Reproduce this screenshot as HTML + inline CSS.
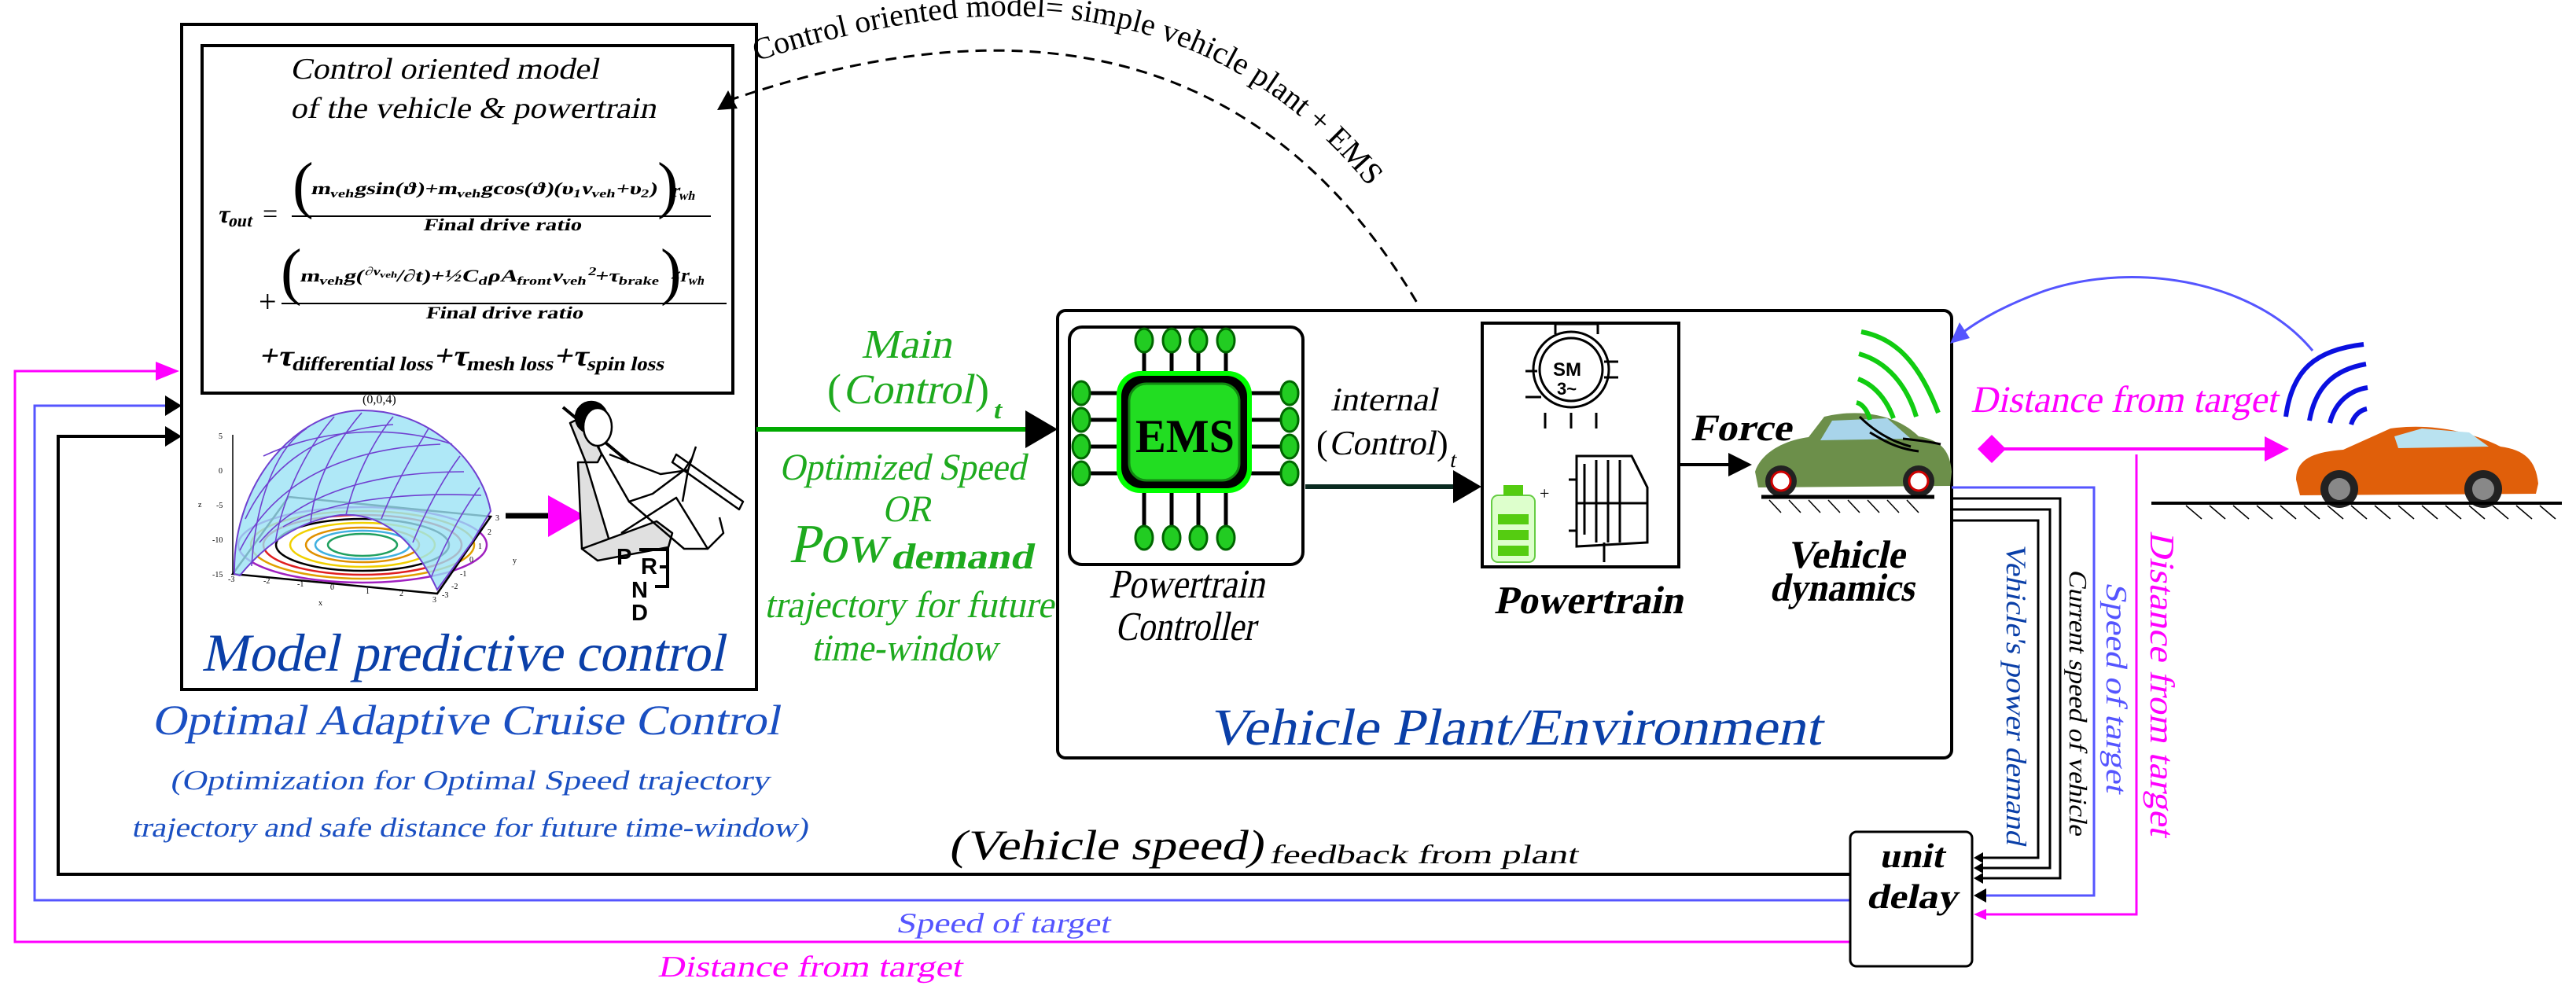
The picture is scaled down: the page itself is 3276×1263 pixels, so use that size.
<!DOCTYPE html>
<html><head><meta charset="utf-8"><style>
html,body{margin:0;padding:0;background:#fff;}
svg{display:block;}
text{font-family:"Liberation Serif",serif;font-style:normal;}
</style></head><body>
<svg width="3276" height="1263" viewBox="0 0 3276 1263" xmlns="http://www.w3.org/2000/svg" font-family="Liberation Serif, serif">

<!-- MPC box -->
<rect x="231" y="31" width="731" height="846" fill="none" stroke="#000" stroke-width="4"/>
<rect x="257" y="58" width="675" height="442" fill="none" stroke="#000" stroke-width="4"/>
<text transform="translate(369,100) skewX(-12)" font-size="38" textLength="392" lengthAdjust="spacingAndGlyphs">Control oriented model</text>
<text transform="translate(369,150) skewX(-12)" font-size="38" textLength="465" lengthAdjust="spacingAndGlyphs">of the vehicle &amp; powertrain</text>
<!-- formula -->
<text transform="translate(276,283) skewX(-12)" font-size="32" font-weight="bold">τ<tspan font-size="22" dy="5">out</tspan></text>
<text x="334" y="283" font-size="34">=</text>
<text x="372" y="262" font-size="80">(</text>
<text transform="translate(395,247) skewX(-12)" font-size="22" font-weight="bold" textLength="440" lengthAdjust="spacingAndGlyphs">m<tspan font-size="15" dy="4">veh</tspan><tspan dy="-4">gsin(ϑ)+m</tspan><tspan font-size="15" dy="4">veh</tspan><tspan dy="-4">gcos(ϑ)(υ</tspan><tspan font-size="15" dy="4">1</tspan><tspan dy="-4">ν</tspan><tspan font-size="15" dy="4">veh</tspan><tspan dy="-4">+υ</tspan><tspan font-size="15" dy="4">2</tspan><tspan dy="-4">)</tspan></text>
<text x="836" y="262" font-size="80">)</text>
<text transform="translate(853,250) skewX(-12)" font-size="24" font-weight="bold">r<tspan font-size="16" dy="4">wh</tspan></text>
<line x1="371" y1="275" x2="904" y2="275" stroke="#000" stroke-width="2"/>
<text transform="translate(538,293) skewX(-12)" font-size="22" font-weight="bold" textLength="201" lengthAdjust="spacingAndGlyphs">Final  drive  ratio</text>
<text x="329" y="397" font-size="40">+</text>
<text x="357" y="372" font-size="80">(</text>
<text transform="translate(381,358) skewX(-12)" font-size="22" font-weight="bold" textLength="457" lengthAdjust="spacingAndGlyphs">m<tspan font-size="15" dy="4">veh</tspan><tspan dy="-4">g(</tspan><tspan font-size="15" dy="-8">∂ν</tspan><tspan font-size="11" dy="3">veh</tspan><tspan dy="5">/∂t)+½C</tspan><tspan font-size="15" dy="4">d</tspan><tspan dy="-4">ρA</tspan><tspan font-size="15" dy="4">front</tspan><tspan dy="-4">ν</tspan><tspan font-size="15" dy="4">veh</tspan><tspan font-size="15" dy="-12">2</tspan><tspan dy="8">+τ</tspan><tspan font-size="15" dy="4">brake</tspan></text>
<text x="840" y="372" font-size="80">)</text>
<text transform="translate(851,358) skewX(-12)" font-size="24" font-weight="bold">×r<tspan font-size="16" dy="4">wh</tspan></text>
<line x1="358" y1="386" x2="924" y2="386" stroke="#000" stroke-width="2"/>
<text transform="translate(541,405) skewX(-12)" font-size="22" font-weight="bold" textLength="200" lengthAdjust="spacingAndGlyphs">Final  drive  ratio</text>
<text transform="translate(329,465) skewX(-12)" font-size="38" font-weight="bold" textLength="516" lengthAdjust="spacingAndGlyphs">+τ<tspan font-size="25" dy="6">differential loss</tspan><tspan dy="-6">+τ</tspan><tspan font-size="25" dy="6">mesh loss</tspan><tspan dy="-6">+τ</tspan><tspan font-size="25" dy="6">spin loss</tspan></text>

<!-- dashed curve -->
<path d="M 926 128 Q 1530 -80 1805 390" fill="none" stroke="#000" stroke-width="3" stroke-dasharray="14,9"/>
<path d="M 912 140 L 926 115 L 938 138 z" fill="#000"/>
<path id="tp" d="M 962 78 Q 1575 -125 1835 385" fill="none"/>
<text font-size="40"><textPath href="#tp">Control oriented model= simple vehicle plant + EMS</textPath></text>

<!-- 3D plot -->
<g>
<text x="461" y="513" font-size="16">(0,0,4)</text>
<line x1="296" y1="553" x2="296" y2="730" stroke="#000" stroke-width="1.5"/>
<g font-size="10"><text x="278" y="558">5</text><text x="278" y="602">0</text><text x="275" y="646">-5</text><text x="270" y="690">-10</text><text x="270" y="734">-15</text></g>
<g fill="none" stroke-width="2.5">
<ellipse cx="461" cy="693" rx="158" ry="48" stroke="#a020c0"/>
<ellipse cx="461" cy="693" rx="142" ry="43" stroke="#e0a000"/>
<ellipse cx="461" cy="693" rx="126" ry="38" stroke="#e02020"/>
<ellipse cx="461" cy="693" rx="110" ry="33" stroke="#000"/>
<ellipse cx="461" cy="693" rx="92" ry="28" stroke="#f0d000"/>
<ellipse cx="461" cy="693" rx="72" ry="22" stroke="#e09000"/>
<ellipse cx="461" cy="693" rx="60" ry="18" stroke="#40b0e0"/>
<ellipse cx="461" cy="693" rx="44" ry="14" stroke="#20a060"/>
</g>
<path d="M 296 730 L 367 632 L 624 657 L 556 755 z" fill="none" stroke="#000" stroke-width="2.5"/>
<path d="M 298 730 C 296 610 380 522 461 522 C 545 522 612 585 624 650 L 600 690 L 556 750 Q 510 650 433 655 Q 360 665 305 732 z" fill="#9be2f5" fill-opacity="0.8" stroke="#7040d0" stroke-width="2"/>
<g stroke="#7040d0" stroke-width="1.6" fill="none">
<path d="M 312 660 C 350 580 420 545 500 540"/><path d="M 305 700 C 350 610 440 570 560 565"/>
<path d="M 330 690 C 380 630 470 600 590 600"/><path d="M 360 670 C 410 640 500 625 612 630"/>
<path d="M 335 580 C 410 545 500 540 575 565"/>
<path d="M 320 720 C 325 640 350 570 390 545"/><path d="M 350 690 C 360 630 390 570 425 530"/>
<path d="M 395 665 C 400 610 430 560 460 525"/><path d="M 440 655 C 450 610 475 560 500 530"/>
<path d="M 485 660 C 500 620 530 570 545 545"/><path d="M 525 690 C 545 640 570 600 585 580"/>
<path d="M 548 735 C 570 680 595 640 610 620"/>
</g>
<g font-size="10"><text x="630" y="662">3</text><text x="620" y="680">2</text><text x="608" y="698">1</text><text x="597" y="715">0</text><text x="585" y="733">-1</text><text x="574" y="749">-2</text><text x="562" y="760">-3</text><text x="290" y="740">-3</text><text x="335" y="742">-2</text><text x="378" y="746">-1</text><text x="420" y="750">0</text><text x="465" y="755">1</text><text x="508" y="758">2</text><text x="550" y="766">3</text><text x="652" y="716">y</text><text x="405" y="770">x</text><text x="252" y="645">z</text></g>
</g>
<line x1="643" y1="656" x2="698" y2="656" stroke="#000" stroke-width="7"/>
<path d="M 697 630 L 744 656 L 697 683 z" fill="#ff00ff"/>
<!-- driver -->
<g stroke="#000" stroke-width="2.5" fill="none" stroke-linejoin="round" transform="translate(0,-62)">
<path d="M 716 580 L 800 650" stroke-width="4"/>
<path d="M 725 600 L 745 590 L 765 640 L 760 650 L 745 650 z" fill="#e0e0e0"/>
<path d="M 735 650 L 745 650 L 775 750 L 740 760 z" fill="#e0e0e0"/>
<path d="M 740 760 L 835 725 L 855 740 L 850 758 L 760 775 z" fill="#e0e0e0"/>
<circle cx="752" cy="593" r="20" fill="#000"/><ellipse cx="760" cy="605" rx="18" ry="24" fill="#fff"/>
<path d="M 760 630 L 800 700 L 830 690 L 870 660 L 880 645"/>
<path d="M 775 640 L 840 665 L 875 660"/>
<path d="M 800 700 L 870 760 L 900 760"/>
<path d="M 790 740 L 860 695 L 900 760 L 920 740 L 915 720"/>
<path d="M 860 640 L 945 700 L 940 710 L 855 650z"/>
<path d="M 885 630 L 875 660 L 868 700"/>
</g>
<g font-size="29" font-weight="bold">
<text x="784" y="718" style="font-family:'Liberation Sans',sans-serif">P</text>
<text x="815" y="730" style="font-family:'Liberation Sans',sans-serif">R</text>
<text x="803" y="760" style="font-family:'Liberation Sans',sans-serif">N</text>
<text x="803" y="789" style="font-family:'Liberation Sans',sans-serif">D</text>
</g>
<path d="M 813 699 L 849 699 L 849 746 L 833 746 M 839 721 L 849 721" stroke="#000" stroke-width="4" fill="none"/>
<text transform="translate(256,853) skewX(-12)" font-size="68" fill="#0a3fa8" textLength="665" lengthAdjust="spacingAndGlyphs">Model predictive control</text>
<text transform="translate(193,934) skewX(-12)" font-size="54" fill="#1a4fc2" textLength="798" lengthAdjust="spacingAndGlyphs">Optimal Adaptive Cruise Control</text>
<text transform="translate(216,1004) skewX(-12)" font-size="35" fill="#1a4fc2" textLength="762" lengthAdjust="spacingAndGlyphs">(Optimization for Optimal Speed trajectory</text>
<text transform="translate(167,1064) skewX(-12)" font-size="35" fill="#1a4fc2" textLength="860" lengthAdjust="spacingAndGlyphs">trajectory and safe distance for future time-window)</text>

<!-- left feedback lines -->
<path d="M 2353 1198 L 19 1198 L 19 472 L 222 472" fill="none" stroke="#ff00ff" stroke-width="3"/>
<path d="M 198 460 L 228 472 L 198 484 z" fill="#ff00ff"/>
<path d="M 2353 1145 L 44 1145 L 44 516 L 215 516" fill="none" stroke="#5555ff" stroke-width="3"/>
<path d="M 210 503 L 231 516 L 210 529 z" fill="#000"/>
<path d="M 2353 1112 L 74 1112 L 74 555 L 215 555" fill="none" stroke="#000" stroke-width="4"/>
<path d="M 210 542 L 231 555 L 210 568 z" fill="#000"/>

<!-- main green arrow -->
<line x1="962" y1="546" x2="1306" y2="546" stroke="#00aa00" stroke-width="6"/>
<path d="M 1304 522 L 1345 546 L 1304 570 z" fill="#000"/>
<g fill="#1eaa1e">
<text transform="translate(1095,455) skewX(-12)" font-size="52" textLength="115" lengthAdjust="spacingAndGlyphs">Main</text>
<text x="1052" y="513" font-size="54">(</text>
<text transform="translate(1072,513) skewX(-12)" font-size="54" textLength="165" lengthAdjust="spacingAndGlyphs">Control</text>
<text x="1240" y="513" font-size="54">)</text>
<text transform="translate(1262,532) skewX(-12)" font-size="32" font-weight="bold">t</text>
<text transform="translate(991,610) skewX(-12)" font-size="48" textLength="313" lengthAdjust="spacingAndGlyphs">Optimized Speed</text>
<text transform="translate(1122,663) skewX(-12)" font-size="48" textLength="62" lengthAdjust="spacingAndGlyphs">OR</text>
<text transform="translate(1003,715) skewX(-12)" font-size="70" textLength="124" lengthAdjust="spacingAndGlyphs">Pow</text>
<text transform="translate(1132,723) skewX(-12)" font-size="46" font-weight="bold" textLength="181" lengthAdjust="spacingAndGlyphs">demand</text>
<text transform="translate(972,785) skewX(-12)" font-size="48" textLength="368" lengthAdjust="spacingAndGlyphs">trajectory for future</text>
<text transform="translate(1032,840) skewX(-12)" font-size="48" textLength="236" lengthAdjust="spacingAndGlyphs">time-window</text>
</g>

<!-- Plant box -->
<rect x="1345" y="395" width="1137" height="569" rx="10" fill="none" stroke="#000" stroke-width="4"/>
<rect x="1360" y="416" width="297" height="302" rx="16" fill="none" stroke="#000" stroke-width="4"/>
<g stroke="#000" stroke-width="5">
<line x1="1455" y1="440" x2="1455" y2="480"/><line x1="1490" y1="440" x2="1490" y2="480"/><line x1="1524" y1="440" x2="1524" y2="480"/><line x1="1559" y1="440" x2="1559" y2="480"/>
<line x1="1455" y1="620" x2="1455" y2="670"/><line x1="1490" y1="620" x2="1490" y2="670"/><line x1="1524" y1="620" x2="1524" y2="670"/><line x1="1559" y1="620" x2="1559" y2="670"/>
<line x1="1375" y1="500" x2="1430" y2="500"/><line x1="1375" y1="534" x2="1430" y2="534"/><line x1="1375" y1="568" x2="1430" y2="568"/><line x1="1375" y1="602" x2="1430" y2="602"/>
<line x1="1590" y1="500" x2="1640" y2="500"/><line x1="1590" y1="534" x2="1640" y2="534"/><line x1="1590" y1="568" x2="1640" y2="568"/><line x1="1590" y1="602" x2="1640" y2="602"/>
</g>
<g fill="#22cc22" stroke="#006600" stroke-width="3">
<ellipse cx="1455" cy="433" rx="11" ry="15"/><ellipse cx="1490" cy="433" rx="11" ry="15"/><ellipse cx="1524" cy="433" rx="11" ry="15"/><ellipse cx="1559" cy="433" rx="11" ry="15"/>
<ellipse cx="1455" cy="684" rx="11" ry="15"/><ellipse cx="1490" cy="684" rx="11" ry="15"/><ellipse cx="1524" cy="684" rx="11" ry="15"/><ellipse cx="1559" cy="684" rx="11" ry="15"/>
<ellipse cx="1375" cy="500" rx="11" ry="15"/><ellipse cx="1375" cy="534" rx="11" ry="15"/><ellipse cx="1375" cy="568" rx="11" ry="15"/><ellipse cx="1375" cy="602" rx="11" ry="15"/>
<ellipse cx="1640" cy="500" rx="11" ry="15"/><ellipse cx="1640" cy="534" rx="11" ry="15"/><ellipse cx="1640" cy="568" rx="11" ry="15"/><ellipse cx="1640" cy="602" rx="11" ry="15"/>
</g>
<rect x="1420" y="472" width="172" height="155" rx="30" fill="#00ff00"/>
<rect x="1426" y="478" width="160" height="143" rx="26" fill="#000"/>
<rect x="1436" y="488" width="140" height="123" rx="22" fill="#22dd22" stroke="#118811" stroke-width="3"/>
<text x="1444" y="575" font-size="60" font-weight="bold" textLength="126" lengthAdjust="spacingAndGlyphs">EMS</text>
<text transform="translate(1410,760) skewX(-12)" font-size="52" textLength="198" lengthAdjust="spacingAndGlyphs">Powertrain</text>
<text transform="translate(1418,814) skewX(-12)" font-size="52" textLength="178" lengthAdjust="spacingAndGlyphs">Controller</text>
<!-- internal arrow -->
<line x1="1660" y1="619" x2="1850" y2="619" stroke="#0a2a20" stroke-width="6"/>
<path d="M 1848 598 L 1884 619 L 1848 640 z" fill="#000"/>
<text transform="translate(1692,522) skewX(-12)" font-size="42" textLength="136" lengthAdjust="spacingAndGlyphs">internal</text>
<text x="1674" y="578" font-size="44">(</text>
<text transform="translate(1690,578) skewX(-12)" font-size="44" textLength="135" lengthAdjust="spacingAndGlyphs">Control</text>
<text x="1827" y="578" font-size="44">)</text>
<text transform="translate(1843,594) skewX(-12)" font-size="28">t</text>
<!-- powertrain box -->
<rect x="1885" y="411" width="250" height="310" fill="none" stroke="#000" stroke-width="4"/>
<g fill="none" stroke="#000" stroke-width="3">
<circle cx="1998" cy="470" r="48"/><circle cx="1998" cy="470" r="40"/>
<path d="M 1978 425 L 1978 412 L 2032 412 L 2032 425"/>
<line x1="1940" y1="472" x2="1955" y2="472"/><line x1="2040" y1="460" x2="2058" y2="460"/><line x1="2040" y1="480" x2="2058" y2="480"/>
<line x1="1940" y1="505" x2="1960" y2="505"/><line x1="1965" y1="525" x2="1965" y2="545"/><line x1="1998" y1="525" x2="1998" y2="545"/><line x1="2030" y1="525" x2="2030" y2="545"/>
<path d="M 2005 580 L 2075 580 L 2095 620 L 2095 690 L 2005 695 z"/>
<line x1="2015" y1="590" x2="2015" y2="680"/><line x1="2030" y1="585" x2="2030" y2="690"/><line x1="2045" y1="585" x2="2045" y2="690"/><line x1="2060" y1="585" x2="2060" y2="690"/>
<line x1="2005" y1="640" x2="2095" y2="640"/><line x1="2040" y1="690" x2="2040" y2="715"/>
<line x1="1995" y1="610" x2="2005" y2="610"/><line x1="1995" y1="675" x2="2005" y2="675"/>
</g>
<text x="1975" y="478" font-size="24" font-weight="bold" style="font-family:'Liberation Sans',sans-serif">SM</text>
<text x="1980" y="502" font-size="22" font-weight="bold" style="font-family:'Liberation Sans',sans-serif">3~</text>
<rect x="1897" y="630" width="55" height="85" rx="8" fill="#ddffcc" stroke="#66cc44" stroke-width="2"/>
<rect x="1912" y="617" width="25" height="13" fill="#55cc11"/>
<rect x="1905" y="654" width="39" height="13" fill="#55cc11"/><rect x="1905" y="674" width="39" height="13" fill="#55cc11"/><rect x="1905" y="694" width="39" height="13" fill="#55cc11"/>
<text x="1958" y="635" font-size="22">+</text>
<text transform="translate(1900,780) skewX(-12)" font-size="50" font-weight="bold" textLength="240" lengthAdjust="spacingAndGlyphs">Powertrain</text>
<!-- force -->
<line x1="2135" y1="591" x2="2205" y2="591" stroke="#000" stroke-width="4"/>
<path d="M 2198 576 L 2228 591 L 2198 606 z" fill="#000"/>
<text transform="translate(2150,560) skewX(-12)" font-size="48" font-weight="bold" textLength="128" lengthAdjust="spacingAndGlyphs">Force</text>
<!-- green car -->
<g>
<path d="M 2232 600 C 2240 575 2270 560 2300 556 L 2320 530 C 2360 520 2410 525 2440 555 C 2470 560 2480 575 2482 600 L 2480 618 L 2236 620 z" fill="#6c8f4a"/>
<path d="M 2330 535 L 2400 532 L 2430 558 L 2315 560 z" fill="#a8d4ea"/>
<circle cx="2265" cy="612" r="20" fill="#222"/><circle cx="2265" cy="612" r="12" fill="#fff" stroke="#c00" stroke-width="3"/>
<circle cx="2440" cy="612" r="20" fill="#222"/><circle cx="2440" cy="612" r="12" fill="#fff" stroke="#c00" stroke-width="3"/>
<line x1="2240" y1="632" x2="2460" y2="632" stroke="#000" stroke-width="5"/>
<g stroke="#000" stroke-width="1.5"><line x1="2250" y1="636" x2="2265" y2="652"/><line x1="2275" y1="636" x2="2290" y2="652"/><line x1="2300" y1="636" x2="2315" y2="652"/><line x1="2325" y1="636" x2="2340" y2="652"/><line x1="2350" y1="636" x2="2365" y2="652"/><line x1="2375" y1="636" x2="2390" y2="652"/><line x1="2400" y1="636" x2="2415" y2="652"/><line x1="2425" y1="636" x2="2440" y2="652"/></g>
<g fill="none" stroke="#11cc11" stroke-width="6"><path d="M 2367 422 C 2410 430 2440 460 2465 525"/><path d="M 2364 450 C 2400 460 2425 490 2437 530"/><path d="M 2363 482 C 2385 490 2400 510 2408 532"/><path d="M 2361 512 C 2370 514 2376 525 2378 534"/></g>
<g fill="none" stroke="#000" stroke-width="3"><path d="M 2365 530 C 2380 545 2400 560 2430 568"/><path d="M 2378 550 C 2395 560 2410 570 2440 574"/><path d="M 2420 558 C 2440 560 2455 562 2468 565"/></g>
</g>
<text transform="translate(2272,722) skewX(-12)" font-size="50" font-weight="bold" textLength="150" lengthAdjust="spacingAndGlyphs">Vehicle</text>
<text transform="translate(2250,764) skewX(-12)" font-size="50" font-weight="bold" textLength="184" lengthAdjust="spacingAndGlyphs">dynamics</text>
<text transform="translate(1536,947) skewX(-12)" font-size="66" fill="#0a3fa8" textLength="780" lengthAdjust="spacingAndGlyphs">Vehicle Plant/Environment</text>

<!-- target car -->
<path d="M 2941 446 C 2870 360 2720 330 2600 370 C 2550 388 2510 410 2485 432" fill="none" stroke="#5555ff" stroke-width="3"/>
<path d="M 2480 437 L 2492 410 L 2505 430 z" fill="#5555ff"/>
<g fill="none" stroke="#0a10e0" stroke-width="6"><path d="M 2907 530 C 2915 470 2945 445 3006 438"/><path d="M 2937 535 C 2945 490 2970 470 3009 463"/><path d="M 2963 538 C 2970 510 2990 496 3011 493"/><path d="M 2990 540 C 2993 530 3000 522 3010 520"/></g>
<text transform="translate(2506,524) skewX(-12)" font-size="48" fill="#ff00ff" textLength="390" lengthAdjust="spacingAndGlyphs">Distance from target</text>
<line x1="2530" y1="571" x2="2880" y2="571" stroke="#ff00ff" stroke-width="4"/>
<path d="M 2515 571 L 2533 553 L 2551 571 L 2533 589 z" fill="#ff00ff"/>
<path d="M 2880 555 L 2911 571 L 2880 587 z" fill="#ff00ff"/>
<g>
<path d="M 2920 610 C 2920 585 2940 575 2980 572 L 3040 545 C 3090 538 3140 548 3180 568 C 3210 572 3225 585 3228 615 L 3225 628 L 2925 630 z" fill="#e05f0a"/>
<path d="M 3045 555 L 3080 545 L 3140 550 L 3165 568 L 3050 570 z" fill="#b9e2f0"/>
<circle cx="2975" cy="622" r="24" fill="#222"/><circle cx="2975" cy="622" r="14" fill="#888"/>
<circle cx="3158" cy="622" r="24" fill="#222"/><circle cx="3158" cy="622" r="14" fill="#888"/>
</g>
<line x1="2736" y1="640" x2="3258" y2="640" stroke="#000" stroke-width="4"/>
<g stroke="#000" stroke-width="1.5">
<line x1="2780" y1="643" x2="2800" y2="660"/><line x1="2810" y1="643" x2="2830" y2="660"/><line x1="2840" y1="643" x2="2860" y2="660"/><line x1="2870" y1="643" x2="2890" y2="660"/><line x1="2900" y1="643" x2="2920" y2="660"/><line x1="2930" y1="643" x2="2950" y2="660"/><line x1="2960" y1="643" x2="2980" y2="660"/><line x1="2990" y1="643" x2="3010" y2="660"/><line x1="3020" y1="643" x2="3040" y2="660"/><line x1="3050" y1="643" x2="3070" y2="660"/><line x1="3080" y1="643" x2="3100" y2="660"/><line x1="3110" y1="643" x2="3130" y2="660"/><line x1="3140" y1="643" x2="3160" y2="660"/><line x1="3170" y1="643" x2="3190" y2="660"/><line x1="3200" y1="643" x2="3220" y2="660"/><line x1="3230" y1="643" x2="3250" y2="660"/>
</g>

<!-- right feedback lines -->
<path d="M 2482 620 L 2663 620 L 2663 1139 L 2520 1139" fill="none" stroke="#5555ff" stroke-width="3"/>
<path d="M 2482 634 L 2620 634 L 2620 1117 L 2520 1117" fill="none" stroke="#000" stroke-width="3"/>
<path d="M 2482 648 L 2607 648 L 2607 1104 L 2520 1104" fill="none" stroke="#000" stroke-width="3"/>
<path d="M 2482 662 L 2592 662 L 2592 1091 L 2520 1091" fill="none" stroke="#000" stroke-width="3"/>
<path d="M 2717 578 L 2717 1163 L 2520 1163" fill="none" stroke="#ff00ff" stroke-width="3"/>
<path d="M 2522 1084 L 2510 1091 L 2522 1098z M 2522 1097 L 2510 1104 L 2522 1111z M 2522 1110 L 2510 1117 L 2522 1124z M 2526 1130 L 2510 1139 L 2526 1148z" fill="#000"/>
<path d="M 2526 1156 L 2510 1163 L 2526 1170 z" fill="#ff00ff"/>
<text transform="translate(2552,690) rotate(90) skewX(-12)" font-size="36" fill="#0a3fa8" textLength="384" lengthAdjust="spacingAndGlyphs">Vehicle's power demand</text>
<text transform="translate(2632,724) rotate(90) skewX(-12)" font-size="32" fill="#000" textLength="338" lengthAdjust="spacingAndGlyphs">Current speed of vehicle</text>
<text transform="translate(2679,740) rotate(90) skewX(-12)" font-size="38" fill="#5555ff" textLength="268" lengthAdjust="spacingAndGlyphs">Speed of target</text>
<text transform="translate(2735,675) rotate(90) skewX(-12)" font-size="44" fill="#ff00ff" textLength="388" lengthAdjust="spacingAndGlyphs">Distance from target</text>

<!-- unit delay -->
<rect x="2353" y="1058" width="155" height="171" rx="8" fill="#fff" stroke="#000" stroke-width="3"/>
<text transform="translate(2390,1103) skewX(-12)" font-size="44" font-weight="bold" textLength="82" lengthAdjust="spacingAndGlyphs">unit</text>
<text transform="translate(2373,1155) skewX(-12)" font-size="44" font-weight="bold" textLength="116" lengthAdjust="spacingAndGlyphs">delay</text>

<!-- bottom labels -->
<text transform="translate(1206,1093) skewX(-12)" font-size="54" textLength="400" lengthAdjust="spacingAndGlyphs">(Vehicle speed)</text>
<text transform="translate(1614,1098) skewX(-12)" font-size="34" textLength="392" lengthAdjust="spacingAndGlyphs">feedback from plant</text>
<text transform="translate(1139,1186) skewX(-12)" font-size="36" fill="#5555ff" textLength="272" lengthAdjust="spacingAndGlyphs">Speed of target</text>
<text transform="translate(836,1242) skewX(-12)" font-size="38" fill="#ff00ff" textLength="387" lengthAdjust="spacingAndGlyphs">Distance from target</text>
</svg>
</body></html>
